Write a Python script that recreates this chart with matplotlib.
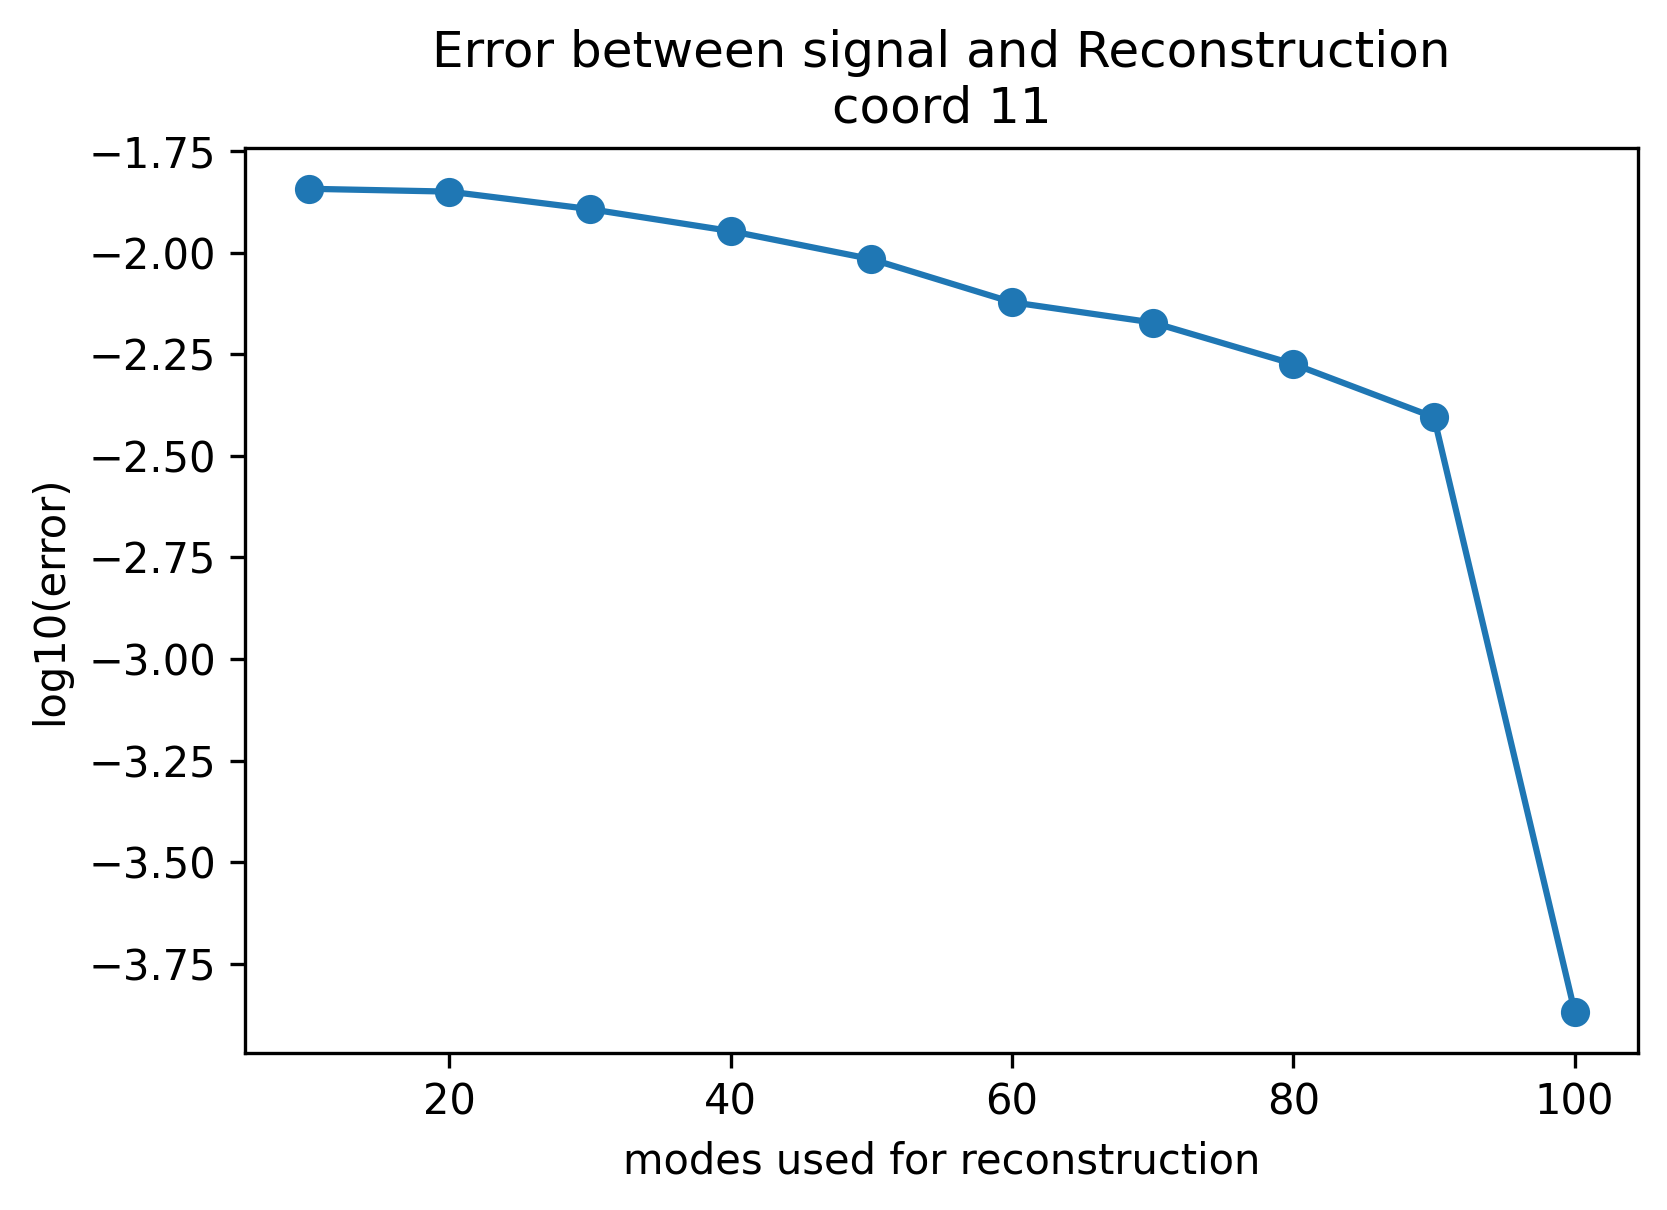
import matplotlib
matplotlib.use('Agg')
import matplotlib.pyplot as plt

modes = [10, 20, 30, 40, 50, 60, 70, 80, 90, 100]
log_err = [-1.843, -1.850, -1.893, -1.947, -2.016, -2.122, -2.172, -2.274, -2.405, -3.867]

fig = plt.figure(figsize=(1668 / 300, 1210 / 300), dpi=300)
ax = fig.add_axes([0.147, 0.130, 0.835, 0.748])
ax.plot(modes, log_err, 'o-')
ax.set_title('Error between signal and Reconstruction\ncoord 11')
ax.set_xlabel('modes used for reconstruction')
ax.set_ylabel('log10(error)')
fig.savefig('out.png', dpi=300)
